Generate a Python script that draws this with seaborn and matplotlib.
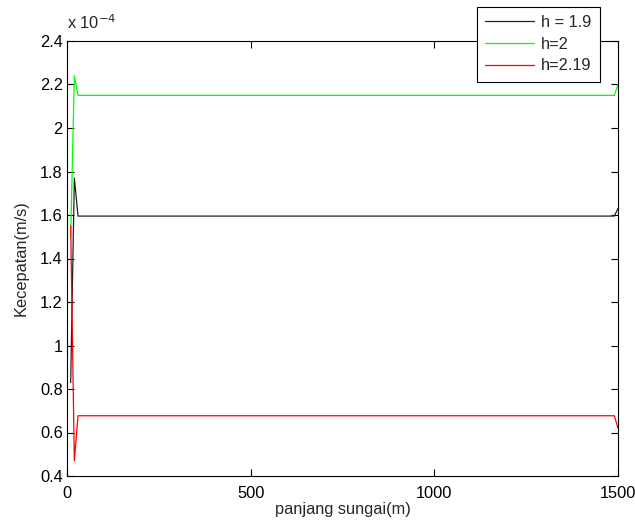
import numpy as np
import pandas as pd
import matplotlib
matplotlib.use("Agg")
import matplotlib.pyplot as plt
import seaborn as sns

# x positions (m)
x_vals = list(range(10, 1501, 10))
n = len(x_vals)

# velocity values (units of 1e-4 m/s)
black_start = [0.83, 1.77]
black_plateau = 1.595
black_end = 1.63
green_start = [1.50, 2.24]
green_plateau = 2.15
green_end = 2.20
red_start = [1.55, 0.47]
red_plateau = 0.677
red_end = 0.62

def series(start, plateau, end):
    return start + [plateau] * (n - len(start) - 1) + [end]

labels = ["h = 1.9", "h=2", "h=2.19"]
colors = ["#222222", "#00ff00", "#ff0000"]
ys = [series(black_start, black_plateau, black_end),
      series(green_start, green_plateau, green_end),
      series(red_start, red_plateau, red_end)]

df = pd.concat([pd.DataFrame({"x": x_vals, "y": np.array(y) * 1e-4, "h": lab})
                for y, lab in zip(ys, labels)], ignore_index=True)

sns.set_style("ticks")
plt.rcParams["font.family"] = ["Liberation Sans", "DejaVu Sans"]

fs = 11.8
fig = plt.figure(figsize=(6.35, 5.23), dpi=100)
ax = fig.add_axes([67/635, 1-476/523, (618-67)/635, (476-41)/523])
sns.lineplot(data=df, x="x", y="y", hue="h", palette=dict(zip(labels, colors)),
             hue_order=labels, ax=ax, linewidth=0.9, legend=True)

ax.set_xlim(0, 1500)
ax.set_ylim(0.4e-4, 2.4e-4)
ax.set_xticks([0, 500, 1000, 1500])
yt = [0.4, 0.6, 0.8, 1.0, 1.2, 1.4, 1.6, 1.8, 2.0, 2.2, 2.4]
ax.set_yticks([v * 1e-4 for v in yt])
ax.set_yticklabels([("%g" % v) for v in yt])
ax.tick_params(direction="in", top=True, right=True, labelsize=fs, length=5, width=0.8,
               colors="black", pad=3)
ax.tick_params(axis="x", pad=7)
for s in ax.spines.values():
    s.set_visible(True)
    s.set_color("black")
    s.set_linewidth(0.8)
ax.set_xlabel("panjang sungai(m)", fontsize=fs, labelpad=1)
ax.set_ylabel("Kecepatan(m/s)", fontsize=fs, labelpad=8)
ax.text(0.0, 1.02, r"x 10$^{-4}$", transform=ax.transAxes, fontsize=fs, ha="left", va="bottom")

leg = ax.legend(loc="upper left", bbox_to_anchor=(477/635, 1-7/523), bbox_transform=fig.transFigure,
                frameon=True, fancybox=False, edgecolor="black", framealpha=1, fontsize=fs,
                handlelength=3.0, handletextpad=0.4, borderpad=0.5, labelspacing=0.4,
                borderaxespad=0)
leg.get_frame().set_linewidth(0.8)
leg.set_title(None)

fig.savefig("out.png", dpi=100)
